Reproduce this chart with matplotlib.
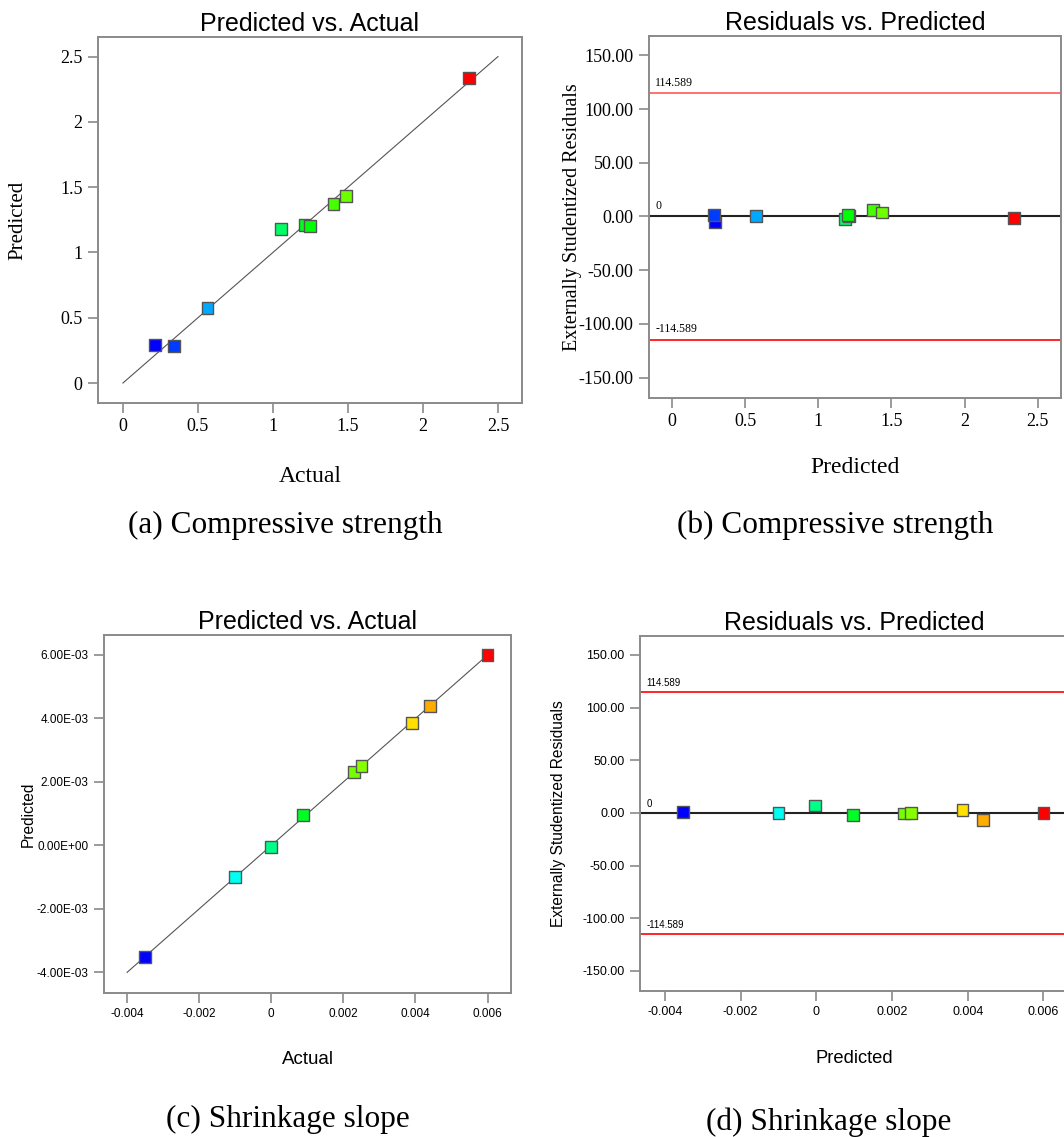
import matplotlib
matplotlib.use("Agg")
import matplotlib.pyplot as plt
import matplotlib.transforms as mtransforms
from matplotlib.colors import LinearSegmentedColormap, Normalize
from matplotlib.ticker import FuncFormatter

# compressive strength runs
cs_actual = [0.215, 0.343, 0.564, 1.055, 1.21, 1.246, 1.403, 1.485, 2.305]
cs_predicted = [0.292, 0.284, 0.576, 1.182, 1.21, 1.205, 1.374, 1.433, 2.339]
cs_residuals = [-5.6, 1.5, 0.3, -2.5, 0.5, 1.2, 6.2, 3.7, -1.2]

# shrinkage slope runs
sh_actual = [-0.00351, -0.001006, 0.0, 0.000889, 0.002294, 0.0025, 0.003893, 0.0044, 0.006]
sh_predicted = [-0.00352, -0.001, -0.000045, 0.00096, 0.00232, 0.0025, 0.00386, 0.0044, 0.006]
sh_residuals = [0.6, -0.3, 7.0, -1.6, -0.6, 0.0, 2.5, -7.0, 0.0]

limit = 114.589
cs_ticks = [0, 0.5, 1, 1.5, 2, 2.5]
sh_xticks = [-0.004, -0.002, 0, 0.002, 0.004, 0.006]
sh_yticks = [-0.004, -0.002, 0, 0.002, 0.004, 0.006]
res_ticks = [-150, -100, -50, 0, 50, 100, 150]
captions = ["(a) Compressive strength", "(b) Compressive strength",
            "(c) Shrinkage slope", "(d) Shrinkage slope"]

SERIF = "Liberation Serif"
SANS = "Liberation Sans"
GRAY = "#8a8a8a"

cmap = LinearSegmentedColormap.from_list(
    "de", ["#0000ff", "#00ffff", "#00ff00", "#ffff00", "#ff0000"])

W, H = 1064, 1137
fig = plt.figure(figsize=(W / 100, H / 100), dpi=100)


def px_axes(x0, y0, x1, y1):
    return fig.add_axes([x0 / W, 1 - y1 / H, (x1 - x0) / W, (y1 - y0) / H])


def style_axes(ax, font, tick_size):
    for s in ax.spines.values():
        s.set_color(GRAY)
        s.set_linewidth(1.4)
    ax.tick_params(direction="out", length=7, width=1.2, color=GRAY,
                   labelsize=tick_size, pad=4)
    for lab in ax.get_xticklabels() + ax.get_yticklabels():
        lab.set_fontfamily(font)


def colors_for(actual):
    norm = Normalize(min(actual), max(actual))
    return [cmap(norm(v)) for v in actual]


def pred_vs_actual(ax, actual, predicted, ticks, font, xlab_size, ylab_size):
    lo, hi = ticks[0], ticks[-1]
    ax.plot([lo, hi], [lo, hi], color="#555555", lw=0.8, zorder=1)
    ax.scatter(actual, predicted, s=72, marker="s", c=colors_for(actual),
               edgecolors="#555555", linewidths=1.0, zorder=3)
    ax.set_title("Predicted vs. Actual", fontfamily=SANS, fontsize=18, pad=4)
    ax.set_xlabel("Actual", fontfamily=font, fontsize=xlab_size)
    ax.set_ylabel("Predicted", fontfamily=font, fontsize=ylab_size)


def resid_vs_pred(ax, actual, predicted, resid, font, xlab_size, ylab_size,
                  top_color, note_size):
    ax.axhline(0, color="#222222", lw=1.5, zorder=1)
    ax.axhline(limit, color=top_color, lw=1.2, zorder=1)
    ax.axhline(-limit, color="#ff0000", lw=1.2, zorder=1)
    trans = mtransforms.blended_transform_factory(ax.transAxes, ax.transData)
    for v, txt in [(limit, "114.589"), (0, "0"), (-limit, "-114.589")]:
        ax.annotate(txt, (0.015, v), xycoords=trans, xytext=(0, 3),
                    textcoords="offset points", fontsize=note_size,
                    fontfamily=font, va="bottom", ha="left")
    ax.scatter(predicted, resid, s=72, marker="s", c=colors_for(actual),
               edgecolors="#555555", linewidths=1.0, zorder=3)
    ax.set_ylim(-169, 168)
    ax.set_yticks(res_ticks)
    ax.yaxis.set_major_formatter(FuncFormatter(lambda v, p: f"{v:.2f}"))
    ax.set_title("Residuals vs. Predicted", fontfamily=SANS, fontsize=18, pad=4)
    ax.set_xlabel("Predicted", fontfamily=font, fontsize=xlab_size)
    ax.set_ylabel("Externally Studentized Residuals", fontfamily=font,
                  fontsize=ylab_size)


# (a)
ax_a = px_axes(98, 37, 522, 403)
pred_vs_actual(ax_a, cs_actual, cs_predicted, cs_ticks, SERIF, 17, 15)
ax_a.set_xlim(-0.166, 2.66)
ax_a.set_ylim(-0.153, 2.65)
ax_a.set_xticks(cs_ticks)
ax_a.set_yticks(cs_ticks)
ax_a.xaxis.set_major_formatter(FuncFormatter(lambda v, p: f"{v:g}"))
ax_a.yaxis.set_major_formatter(FuncFormatter(lambda v, p: f"{v:g}"))
ax_a.xaxis.set_label_coords(0.5, -0.2)
ax_a.xaxis.label.set_va("center")
ax_a.yaxis.set_label_coords(-0.19, 0.5)
ax_a.yaxis.label.set_va("center")
style_axes(ax_a, SERIF, 13)

# (b)
ax_b = px_axes(649, 36, 1061, 398)
resid_vs_pred(ax_b, cs_actual, cs_predicted, cs_residuals, SERIF, 17, 14.5,
              "#ff5a5a", 8.5)
ax_b.set_xlim(-0.158, 2.66)
ax_b.set_xticks(cs_ticks)
ax_b.xaxis.set_major_formatter(FuncFormatter(lambda v, p: f"{v:g}"))
ax_b.xaxis.set_label_coords(0.5, -0.193)
ax_b.xaxis.label.set_va("center")
ax_b.yaxis.set_label_coords(-0.185, 0.5)
ax_b.yaxis.label.set_va("center")
style_axes(ax_b, SERIF, 13)


def sh_x(v, p):
    return "0" if abs(v) < 1e-12 else f"{v:.3f}"


# (c)
ax_c = px_axes(104, 635, 511, 993)
pred_vs_actual(ax_c, sh_actual, sh_predicted, [-0.004, 0.006], SANS, 13.5, 11.2)
ax_c.set_xlim(-0.00464, 0.00665)
ax_c.set_ylim(-0.00465, 0.00663)
ax_c.set_xticks(sh_xticks)
ax_c.set_yticks(sh_yticks)
ax_c.xaxis.set_major_formatter(FuncFormatter(sh_x))
ax_c.yaxis.set_major_formatter(FuncFormatter(lambda v, p: f"{0 if abs(v) < 1e-12 else v:.2E}"))
ax_c.xaxis.set_label_coords(0.5, -0.187)
ax_c.xaxis.label.set_va("center")
ax_c.yaxis.set_label_coords(-0.187, 0.5)
ax_c.yaxis.label.set_va("center")
style_axes(ax_c, SANS, 8.5)

# (d)
ax_d = px_axes(640, 636, 1068, 991)
resid_vs_pred(ax_d, sh_actual, sh_predicted, sh_residuals, SANS, 13.2, 11.2,
              "#ff0000", 7)
ax_d.set_xlim(-0.00466, 0.00665)
ax_d.set_xticks(sh_xticks)
ax_d.xaxis.set_major_formatter(FuncFormatter(sh_x))
ax_d.xaxis.set_label_coords(0.5, -0.189)
ax_d.xaxis.label.set_va("center")
ax_d.yaxis.set_label_coords(-0.19, 0.5)
ax_d.yaxis.label.set_va("center")
style_axes(ax_d, SANS, 9)

# panel captions
for txt, (cx, by) in zip(captions, [(285, 533), (835, 533), (288, 1127), (829, 1130)]):
    fig.text(cx / W, 1 - by / H, txt, ha="center", va="baseline",
             fontfamily=SERIF, fontsize=22.5)

fig.savefig("out.png", dpi=100)
